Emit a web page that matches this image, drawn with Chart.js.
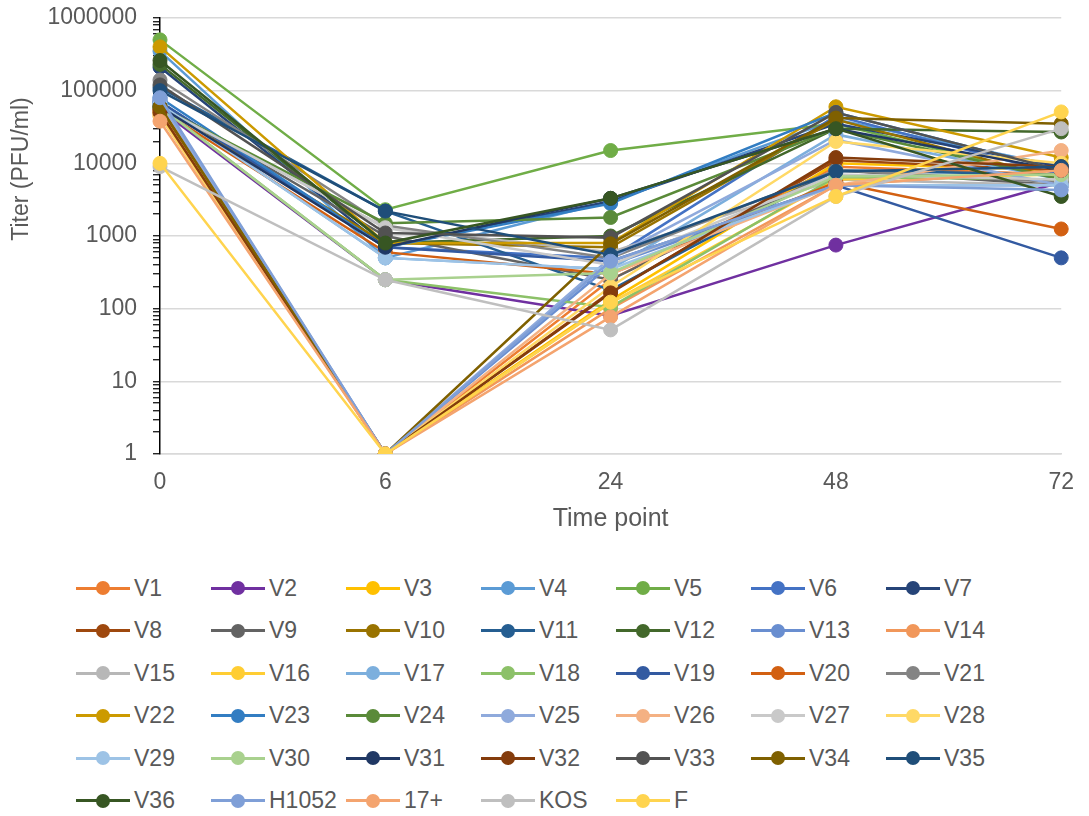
<!DOCTYPE html>
<html>
<head>
<meta charset="utf-8">
<script src="https://cdn.jsdelivr.net/npm/chart.js@4.4.1/dist/chart.umd.min.js"></script>
<style>
  body { margin: 0; background: #fff; font-family: "Liberation Sans", Arial, sans-serif; }
  #wrap { position: relative; width: 1089px; height: 816px; }
  #chartBox { position: absolute; left: 0; top: 0; width: 1089px; height: 545px; }
  #legend { position: absolute; left: 76px; top: 567px; display: grid; grid-template-columns: repeat(7, 135px); }
  .item { height: 42.5px; display: flex; align-items: center; font-size: 23px; color: #595959; white-space: nowrap; }
  .sw { position: relative; width: 54px; height: 14px; margin-right: 4px; flex: none; }
  .sw .ln { position: absolute; left: 0; right: 0; top: 5.5px; height: 3px; }
  .sw .dt { position: absolute; left: 20px; top: 0; width: 14px; height: 14px; border-radius: 50%; }
</style>
</head>
<body>
<div id="wrap">
  <div id="chartBox"><canvas id="titerChart"></canvas></div>
  <div id="legend"></div>
</div>
<script>
const timePoints = ['0', '6', '24', '48', '72'];

const seriesNames = ['V1','V2','V3','V4','V5','V6','V7','V8','V9','V10',
  'V11','V12','V13','V14','V15','V16','V17','V18','V19','V20',
  'V21','V22','V23','V24','V25','V26','V27','V28','V29','V30',
  'V31','V32','V33','V34','V35','V36','H1052','17+','KOS','F'];

// titer (PFU/ml) per series at each time point, same order as seriesNames
const titerT0 = [60000,55000,50000,350000,500000,70000,210000,55000,65000,60000,
  110000,230000,75000,45000,60000,50000,65000,60000,70000,55000,
  140000,400000,80000,60000,70000,50000,60000,45000,65000,60000,
  60000,50000,120000,60000,100000,260000,80000,38000,9000,10000];
const titerT6 = [1,250,1,500,2300,700,700,1,1000,800,
  2200,800,1,1,1300,1,500,250,700,600,
  1400,800,700,1500,1,1,1300,1,500,250,
  700,1,1100,1,2200,800,1,1,250,1];
const titerT24 = [250,80,130,3000,15000,500,3000,170,250,700,
  180,1000,400,100,600,120,350,105,450,300,
  500,800,2800,1800,500,300,400,200,350,310,
  3300,165,950,780,550,3300,450,77,51,123];
const titerT48 = [9000,750,10000,40000,35000,45000,35000,11000,8000,40000,
  8000,30000,5000,5000,6000,6000,25000,6500,5000,5500,
  8000,60000,50000,30000,21000,5000,7000,20000,5000,6600,
  30000,12000,50000,42000,7700,30000,5000,5000,3500,3500];
const titerT72 = [7000,5500,8000,9000,6000,7000,9000,8000,5000,6000,
  7000,27000,5000,8000,5000,7000,6000,6000,500,1250,
  5500,12000,8000,6000,5000,15000,6000,10000,5000,7000,
  8000,9000,8000,35000,9000,3500,4300,8000,30000,51000];

const yTickLabels = ['1','10','100','1000','10000','100000','1000000'];

const seriesColors = ['#ED7D31','#7030A0','#FFC000','#5B9BD5','#70AD47','#4472C4','#264478','#9E480E','#636363','#997300',
  '#255E91','#43682B','#698ED0','#F1975A','#B7B7B7','#FFCD33','#7CAFDD','#8CC168','#335AA1','#D26012',
  '#848484','#CC9A00','#327DC2','#5A8A39','#8FAADC','#F4B183','#C9C9C9','#FFD966','#9DC3E6','#A9D18E',
  '#203864','#843C0C','#525252','#7F6000','#1F4E79','#375623','#7F9FD7','#F4A46F','#BFBFBF','#FFD44F'];

const columns = [titerT0, titerT6, titerT24, titerT48, titerT72];
const textColor = '#595959';
const fontFamily = '"Liberation Sans", Arial, sans-serif';

const datasets = seriesNames.map((name, i) => ({
  label: name,
  data: columns.map(col => col[i]),
  borderColor: seriesColors[i],
  backgroundColor: seriesColors[i],
  pointBackgroundColor: seriesColors[i],
  pointBorderColor: seriesColors[i],
  borderWidth: 2.5,
  pointRadius: 7,
  pointBorderWidth: 1,
  tension: 0,
  order: -i  // later series on top, like Excel
}));

const isMajor = v => yTickLabels.includes(String(v));

// y axis title sits a bit above the plot centre in the original
const yTitlePlugin = {
  id: 'yTitle',
  afterDraw(chart) {
    const ctx = chart.ctx;
    ctx.save();
    ctx.translate(22, 169);
    ctx.rotate(-Math.PI / 2);
    ctx.font = '23px ' + fontFamily;
    ctx.fillStyle = textColor;
    ctx.textAlign = 'center';
    ctx.textBaseline = 'middle';
    ctx.fillText('Titer (PFU/ml)', 0, 0);
    ctx.restore();
  }
};

new Chart(document.getElementById('titerChart'), {
  type: 'line',
  data: { labels: timePoints, datasets: datasets },
  plugins: [yTitlePlugin],
  options: {
    responsive: true,
    maintainAspectRatio: false,
    animation: false,
    events: [],
    layout: { padding: { top: 18, right: 24, left: 0, bottom: 0 } },
    plugins: { legend: { display: false }, tooltip: { enabled: false } },
    scales: {
      x: {
        type: 'category',
        offset: false,
        afterFit: s => { s.height = 91; },
        grid: { display: false, drawTicks: false },
        border: { display: true, color: '#D9D9D9', width: 1.5 },
        ticks: { color: textColor, padding: 15, font: { size: 23, family: fontFamily } },
        title: { display: true, text: 'Time point', color: textColor, font: { size: 25, family: fontFamily }, padding: { top: 0, bottom: 11 } }
      },
      y: {
        type: 'logarithmic',
        min: 1,
        max: 1000000,
        afterFit: s => { s.width = 160; s.paddingTop = 0; s.paddingBottom = 0; },
        afterBuildTicks: s => {
          const ticks = [];
          for (let e = 0; e <= 6; e++) {
            for (let m = 1; m <= 9; m++) {
              const v = m * Math.pow(10, e);
              if (v <= 1000000) ticks.push({ value: v });
            }
          }
          s.ticks = ticks;
        },
        grid: {
          color: c => (c.tick && isMajor(c.tick.value)) ? '#D9D9D9' : 'rgba(0,0,0,0)',
          lineWidth: 1.5,
          tickColor: '#000',
          tickLength: 7,
          tickWidth: 1.2
        },
        border: { display: true, color: '#000', width: 1.5 },
        ticks: {
          autoSkip: false,
          padding: 16,
          color: textColor,
          font: { size: 23, family: fontFamily },
          callback: v => isMajor(v) ? String(v) : ''
        }
      }
    }
  }
});

// legend laid out in 7 fixed columns like the original
const legend = document.getElementById('legend');
seriesNames.forEach((name, i) => {
  const item = document.createElement('div');
  item.className = 'item';
  item.innerHTML = '<span class="sw"><span class="ln" style="background:' + seriesColors[i] + '"></span>' +
    '<span class="dt" style="background:' + seriesColors[i] + '"></span></span><span>' + name + '</span>';
  legend.appendChild(item);
});
</script>
</body>
</html>
